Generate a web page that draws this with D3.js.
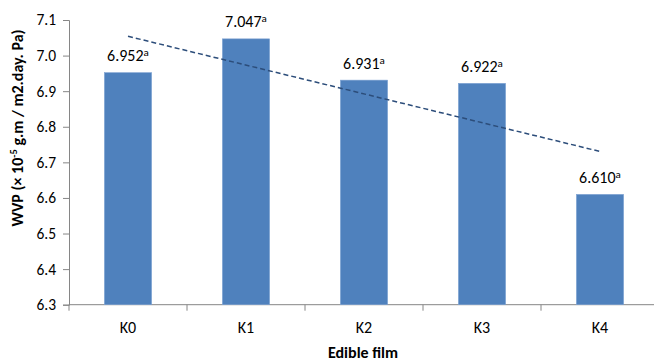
<!DOCTYPE html>
<html>
<head>
<meta charset="utf-8">
<script src="https://cdn.jsdelivr.net/npm/d3@7"></script>
<style>
  html, body { margin: 0; padding: 0; background: #fff; }
  svg { display: block; }
  text { font-family: Carlito, Calibri, Lato, "Open Sans", sans-serif; fill: #000; }
</style>
</head>
<body>
<svg id="chart" width="654" height="361"></svg>
<script>
// Water vapour permeability of each edible film formulation
const films = ["K0", "K1", "K2", "K3", "K4"];
const wvp = [6.952, 7.047, 6.931, 6.922, 6.610];
const letters = ["a", "a", "a", "a", "a"];
const yTicks = [6.3, 6.4, 6.5, 6.6, 6.7, 6.8, 6.9, 7.0, 7.1];

const svg = d3.select("#chart");
const plotLeft = 69, plotRight = 659, plotTop = 20, plotBottom = 304.7;

const x = d3.scaleBand().domain(films).range([plotLeft, plotRight]).padding(0);
const y = d3.scaleLinear().domain([6.3, 7.1]).range([plotBottom, plotTop]);

const axisColor = "#868686";
const barColor = "#4F81BD";

// Y axis
const yAxis = svg.append("g")
  .attr("transform", `translate(${plotLeft},0)`)
  .call(d3.axisLeft(y).tickValues(yTicks).tickFormat(d3.format(".1f")).tickSize(6).tickPadding(7));
yAxis.select(".domain").attr("stroke", axisColor);
yAxis.selectAll(".tick line").attr("stroke", axisColor);
yAxis.selectAll(".tick text")
  .style("font-family", "Carlito, Calibri, Lato, sans-serif")
  .attr("font-size", 15.5).attr("fill", "#000");

// X axis: tick marks on category boundaries
const xAxisG = svg.append("g").attr("transform", `translate(0,${plotBottom})`);
xAxisG.append("line")
  .attr("x1", plotLeft).attr("x2", 654)
  .attr("stroke", axisColor);
const boundaries = films.map(f => x(f)).concat([x(films[films.length - 1]) + x.bandwidth()]);
xAxisG.selectAll("line.tk").data(boundaries).join("line")
  .attr("class", "tk")
  .attr("x1", d => d).attr("x2", d => d)
  .attr("y1", 0).attr("y2", 6)
  .attr("stroke", axisColor);
xAxisG.selectAll("text.cat").data(films).join("text")
  .attr("class", "cat")
  .attr("x", d => x(d) + x.bandwidth() / 2)
  .attr("y", 28)
  .attr("text-anchor", "middle")
  .attr("font-size", 16)
  .text(d => d);

// Bars
const barW = x.bandwidth() * 0.4;
svg.append("g").selectAll("rect").data(films).join("rect")
  .attr("x", d => x(d) + (x.bandwidth() - barW) / 2)
  .attr("y", (d, i) => y(wvp[i]))
  .attr("width", barW)
  .attr("height", (d, i) => plotBottom - y(wvp[i]))
  .attr("fill", barColor)
  .attr("stroke", "#7FA3D2")
  .attr("stroke-width", 0.6);

// Value labels with significance letters
const labels = svg.append("g").selectAll("text").data(films).join("text")
  .attr("x", d => x(d) + x.bandwidth() / 2)
  .attr("y", (d, i) => y(wvp[i]) - 11.5)
  .attr("text-anchor", "middle")
  .attr("font-size", 16);
labels.append("tspan").text((d, i) => wvp[i].toFixed(3));
labels.append("tspan")
  .attr("font-size", 11)
  .attr("dy", -5)
  .text((d, i) => letters[i]);

// Linear trend line (least squares over category index)
const n = wvp.length;
const idx = d3.range(1, n + 1);
const mx = d3.mean(idx), my = d3.mean(wvp);
const slope = d3.sum(idx, (t, i) => (t - mx) * (wvp[i] - my)) / d3.sum(idx, t => (t - mx) ** 2);
const fit = t => my + slope * (t - mx);
const cx = f => x(f) + x.bandwidth() / 2;
svg.append("line")
  .attr("x1", cx(films[0])).attr("y1", y(fit(1)))
  .attr("x2", cx(films[n - 1])).attr("y2", y(fit(n)))
  .attr("stroke", "#2C4D7A")
  .attr("stroke-width", 1.5)
  .attr("stroke-dasharray", "5,3");

// Axis titles
svg.append("text")
  .attr("x", 363).attr("y", 357.5)
  .attr("text-anchor", "middle")
  .attr("font-size", 16)
  .attr("font-weight", "bold")
  .text("Edible film");

const yt = svg.append("text")
  .attr("transform", "translate(22.5,128) rotate(-90)")
  .attr("text-anchor", "middle")
  .attr("font-size", 16)
  .attr("font-weight", "bold");
yt.append("tspan").text("WVP (× 10");
yt.append("tspan").attr("font-size", 10.5).attr("dy", -6).text("-5");
yt.append("tspan").attr("dy", 6).text(" g.m / m2.day. Pa)");
</script>
</body>
</html>
